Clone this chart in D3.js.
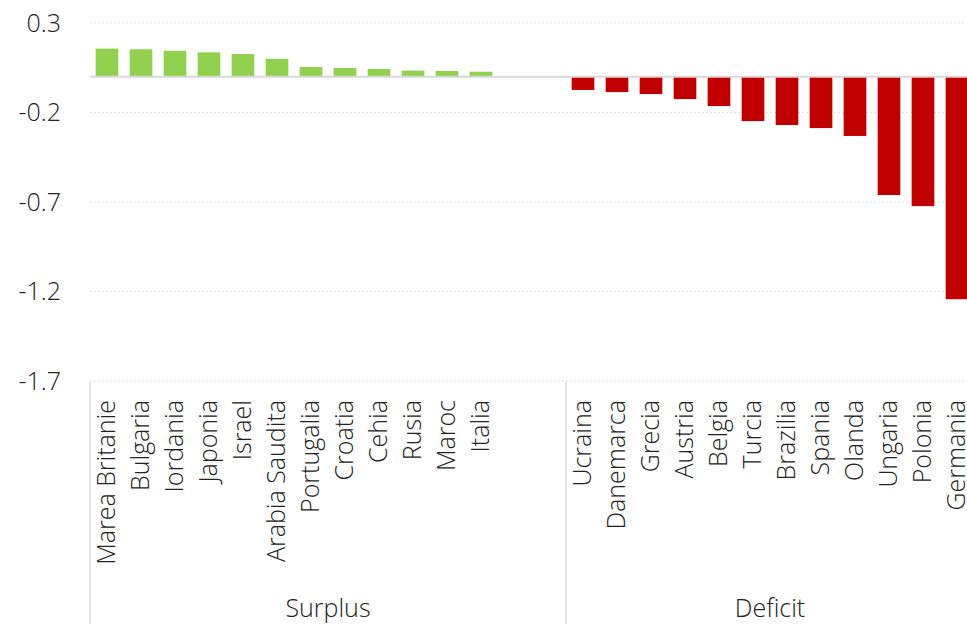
<!DOCTYPE html>
<html>
<head>
<meta charset="utf-8">
<script src="https://cdn.jsdelivr.net/npm/d3@7"></script>
<style>
  html, body { margin: 0; padding: 0; background: #fff; overflow: hidden; }
  svg { display: block; font-family: "Open Sans", "Noto Sans", sans-serif; font-weight: 300; }
  text { fill: #222; }
</style>
</head>
<body>
<svg id="chart" width="967" height="624"></svg>
<script>
// Countries with a surplus, largest first
const surplusCountries = ["Marea Britanie", "Bulgaria", "Iordania", "Japonia", "Israel", "Arabia Saudita",
  "Portugalia", "Croatia", "Cehia", "Rusia", "Maroc", "Italia"];
const surplusValues = [0.157, 0.153, 0.145, 0.136, 0.127, 0.100, 0.054, 0.049, 0.043, 0.034, 0.032, 0.028];

// Countries with a deficit, smallest first
const deficitCountries = ["Ucraina", "Danemarca", "Grecia", "Austria", "Belgia", "Turcia",
  "Brazilia", "Spania", "Olanda", "Ungaria", "Polonia", "Germania"];
const deficitValues = [-0.074, -0.086, -0.097, -0.125, -0.164, -0.248, -0.270, -0.287, -0.331, -0.661, -0.723, -1.243];

const groupLabels = ["Surplus", "Deficit"];
const yTicks = [0.3, -0.2, -0.7, -1.2, -1.7];

// Two empty slots sit between the groups on the category axis
const spacers = ["__gap1", "__gap2"];

const svg = d3.select("#chart");
const margin = { left: 90, top: 23, bottom: 381 };
const plotRight = 974;
const fontSize = 25;

const rows = surplusCountries.map((c, i) => ({ name: c, value: surplusValues[i], color: "#92d050" }))
  .concat(deficitCountries.map((c, i) => ({ name: c, value: deficitValues[i], color: "#c00000" })));

const x = d3.scaleBand()
  .domain(surplusCountries.concat(spacers, deficitCountries))
  .range([margin.left, plotRight])
  .paddingInner(1 / 3)
  .paddingOuter(1 / 6);

const y = d3.scaleLinear()
  .domain([-1.7, 0.3])
  .range([margin.bottom, margin.top]);

// Dotted horizontal gridlines
svg.append("g")
  .selectAll("line")
  .data(yTicks)
  .join("line")
  .attr("x1", margin.left)
  .attr("x2", plotRight)
  .attr("y1", d => y(d))
  .attr("y2", d => y(d))
  .attr("stroke", "#e3e3e3")
  .attr("stroke-width", 1)
  .attr("stroke-dasharray", "2,2");

// Y axis labels
const yAxis = d3.axisLeft(y).tickValues(yTicks).tickSize(0).tickPadding(0)
  .tickFormat(d => d3.format(".1f")(d).replace("−", "-"));
const yg = svg.append("g")
  .attr("transform", `translate(61,0)`)
  .call(yAxis)
  .attr("font-family", null)
  .attr("font-size", fontSize);
yg.select(".domain").remove();
yg.selectAll("text").attr("fill", "#222");

// Bars
svg.append("g")
  .selectAll("rect")
  .data(rows)
  .join("rect")
  .attr("x", d => x(d.name))
  .attr("width", x.bandwidth())
  .attr("y", d => y(Math.max(0, d.value)))
  .attr("height", d => Math.abs(y(d.value) - y(0)))
  .attr("fill", d => d.color);

// Zero baseline
svg.append("line")
  .attr("x1", margin.left)
  .attr("x2", plotRight)
  .attr("y1", y(0))
  .attr("y2", y(0))
  .attr("stroke", "#d9d9d9")
  .attr("stroke-width", 2);

// Rotated category labels, top-aligned under the plot
svg.append("g")
  .selectAll("text")
  .data(rows)
  .join("text")
  .attr("transform", d => `translate(${x(d.name) + x.bandwidth() / 2},400) rotate(-90)`)
  .attr("text-anchor", "end")
  .attr("dy", "0.3em")
  .attr("font-size", fontSize)
  .text(d => d.name);

// Group separators and group labels
const groupStarts = [x(surplusCountries[0]) - x.step() * x.paddingOuter(),
                     x(deficitCountries[0]) - x.step() * x.paddingInner() / 2];
const groupEnds = [groupStarts[1], plotRight];

svg.append("g")
  .selectAll("line")
  .data(groupStarts)
  .join("line")
  .attr("x1", d => d)
  .attr("x2", d => d)
  .attr("y1", margin.bottom + 1)
  .attr("y2", 624)
  .attr("stroke", "#d9d9d9")
  .attr("stroke-width", 1.5);

svg.append("g")
  .selectAll("text")
  .data(groupLabels)
  .join("text")
  .attr("x", (d, i) => (groupStarts[i] + groupEnds[i]) / 2)
  .attr("y", 608)
  .attr("dy", "0.35em")
  .attr("text-anchor", "middle")
  .attr("font-size", fontSize)
  .text(d => d);
</script>
</body>
</html>
